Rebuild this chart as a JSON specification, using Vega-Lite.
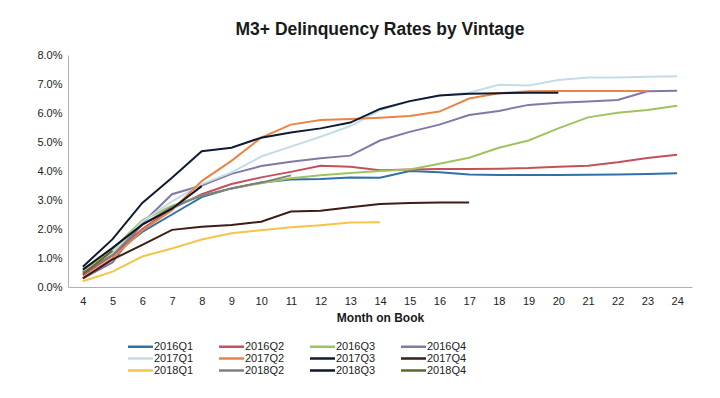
{
  "$schema": "https://vega.github.io/schema/vega-lite/v6.json",
  "width": 624,
  "height": 232,
  "autosize": {"type": "none"},
  "padding": {"left": 68, "top": 55, "right": 28, "bottom": 111},
  "background": "white",
  "title": {"text": "M3+ Delinquency Rates by Vintage", "fontSize": 17.5, "font": "Liberation Sans", "fontWeight": "bold", "anchor": "middle", "offset": 11, "color": "#1a1a1a"},
  "data": {"values": [
    {"v":"2016Q1","m":4,"r":0.5},{"v":"2016Q1","m":5,"r":1.1},{"v":"2016Q1","m":6,"r":1.9},{"v":"2016Q1","m":7,"r":2.5},{"v":"2016Q1","m":8,"r":3.1},{"v":"2016Q1","m":9,"r":3.4},{"v":"2016Q1","m":10,"r":3.6},{"v":"2016Q1","m":11,"r":3.71},{"v":"2016Q1","m":12,"r":3.72},{"v":"2016Q1","m":13,"r":3.78},{"v":"2016Q1","m":14,"r":3.77},{"v":"2016Q1","m":15,"r":4.0},{"v":"2016Q1","m":16,"r":3.96},{"v":"2016Q1","m":17,"r":3.88},{"v":"2016Q1","m":18,"r":3.86},{"v":"2016Q1","m":19,"r":3.86},{"v":"2016Q1","m":20,"r":3.86},{"v":"2016Q1","m":21,"r":3.87},{"v":"2016Q1","m":22,"r":3.88},{"v":"2016Q1","m":23,"r":3.9},{"v":"2016Q1","m":24,"r":3.92},
    {"v":"2016Q2","m":4,"r":0.4},{"v":"2016Q2","m":5,"r":1.1},{"v":"2016Q2","m":6,"r":2.0},{"v":"2016Q2","m":7,"r":2.7},{"v":"2016Q2","m":8,"r":3.2},{"v":"2016Q2","m":9,"r":3.55},{"v":"2016Q2","m":10,"r":3.78},{"v":"2016Q2","m":11,"r":3.97},{"v":"2016Q2","m":12,"r":4.18},{"v":"2016Q2","m":13,"r":4.15},{"v":"2016Q2","m":14,"r":4.03},{"v":"2016Q2","m":15,"r":4.05},{"v":"2016Q2","m":16,"r":4.07},{"v":"2016Q2","m":17,"r":4.07},{"v":"2016Q2","m":18,"r":4.08},{"v":"2016Q2","m":19,"r":4.1},{"v":"2016Q2","m":20,"r":4.15},{"v":"2016Q2","m":21,"r":4.18},{"v":"2016Q2","m":22,"r":4.3},{"v":"2016Q2","m":23,"r":4.45},{"v":"2016Q2","m":24,"r":4.56},
    {"v":"2016Q3","m":4,"r":0.55},{"v":"2016Q3","m":5,"r":1.3},{"v":"2016Q3","m":6,"r":2.3},{"v":"2016Q3","m":7,"r":2.8},{"v":"2016Q3","m":8,"r":3.15},{"v":"2016Q3","m":9,"r":3.4},{"v":"2016Q3","m":10,"r":3.58},{"v":"2016Q3","m":11,"r":3.75},{"v":"2016Q3","m":12,"r":3.85},{"v":"2016Q3","m":13,"r":3.93},{"v":"2016Q3","m":14,"r":4.0},{"v":"2016Q3","m":15,"r":4.05},{"v":"2016Q3","m":16,"r":4.25},{"v":"2016Q3","m":17,"r":4.46},{"v":"2016Q3","m":18,"r":4.8},{"v":"2016Q3","m":19,"r":5.05},{"v":"2016Q3","m":20,"r":5.47},{"v":"2016Q3","m":21,"r":5.85},{"v":"2016Q3","m":22,"r":6.01},{"v":"2016Q3","m":23,"r":6.1},{"v":"2016Q3","m":24,"r":6.25},
    {"v":"2016Q4","m":4,"r":0.3},{"v":"2016Q4","m":5,"r":0.85},{"v":"2016Q4","m":6,"r":2.2},{"v":"2016Q4","m":7,"r":3.2},{"v":"2016Q4","m":8,"r":3.5},{"v":"2016Q4","m":9,"r":3.9},{"v":"2016Q4","m":10,"r":4.17},{"v":"2016Q4","m":11,"r":4.32},{"v":"2016Q4","m":12,"r":4.44},{"v":"2016Q4","m":13,"r":4.53},{"v":"2016Q4","m":14,"r":5.05},{"v":"2016Q4","m":15,"r":5.35},{"v":"2016Q4","m":16,"r":5.6},{"v":"2016Q4","m":17,"r":5.93},{"v":"2016Q4","m":18,"r":6.07},{"v":"2016Q4","m":19,"r":6.28},{"v":"2016Q4","m":20,"r":6.35},{"v":"2016Q4","m":21,"r":6.4},{"v":"2016Q4","m":22,"r":6.45},{"v":"2016Q4","m":23,"r":6.75},{"v":"2016Q4","m":24,"r":6.77},
    {"v":"2017Q1","m":4,"r":0.5},{"v":"2017Q1","m":5,"r":1.2},{"v":"2017Q1","m":6,"r":2.25},{"v":"2017Q1","m":7,"r":2.95},{"v":"2017Q1","m":8,"r":3.55},{"v":"2017Q1","m":9,"r":3.95},{"v":"2017Q1","m":10,"r":4.5},{"v":"2017Q1","m":11,"r":4.84},{"v":"2017Q1","m":12,"r":5.18},{"v":"2017Q1","m":13,"r":5.55},{"v":"2017Q1","m":14,"r":6.1},{"v":"2017Q1","m":15,"r":6.4},{"v":"2017Q1","m":16,"r":6.6},{"v":"2017Q1","m":17,"r":6.7},{"v":"2017Q1","m":18,"r":6.97},{"v":"2017Q1","m":19,"r":6.95},{"v":"2017Q1","m":20,"r":7.14},{"v":"2017Q1","m":21,"r":7.22},{"v":"2017Q1","m":22,"r":7.22},{"v":"2017Q1","m":23,"r":7.25},{"v":"2017Q1","m":24,"r":7.27},
    {"v":"2017Q2","m":4,"r":0.3},{"v":"2017Q2","m":5,"r":1.0},{"v":"2017Q2","m":6,"r":1.95},{"v":"2017Q2","m":7,"r":2.65},{"v":"2017Q2","m":8,"r":3.65},{"v":"2017Q2","m":9,"r":4.35},{"v":"2017Q2","m":10,"r":5.15},{"v":"2017Q2","m":11,"r":5.6},{"v":"2017Q2","m":12,"r":5.76},{"v":"2017Q2","m":13,"r":5.79},{"v":"2017Q2","m":14,"r":5.84},{"v":"2017Q2","m":15,"r":5.9},{"v":"2017Q2","m":16,"r":6.05},{"v":"2017Q2","m":17,"r":6.5},{"v":"2017Q2","m":18,"r":6.68},{"v":"2017Q2","m":19,"r":6.75},{"v":"2017Q2","m":20,"r":6.76},{"v":"2017Q2","m":21,"r":6.76},{"v":"2017Q2","m":22,"r":6.76},{"v":"2017Q2","m":23,"r":6.76},
    {"v":"2017Q3","m":4,"r":0.7},{"v":"2017Q3","m":5,"r":1.65},{"v":"2017Q3","m":6,"r":2.9},{"v":"2017Q3","m":7,"r":3.77},{"v":"2017Q3","m":8,"r":4.68},{"v":"2017Q3","m":9,"r":4.8},{"v":"2017Q3","m":10,"r":5.15},{"v":"2017Q3","m":11,"r":5.33},{"v":"2017Q3","m":12,"r":5.47},{"v":"2017Q3","m":13,"r":5.67},{"v":"2017Q3","m":14,"r":6.14},{"v":"2017Q3","m":15,"r":6.41},{"v":"2017Q3","m":16,"r":6.6},{"v":"2017Q3","m":17,"r":6.66},{"v":"2017Q3","m":18,"r":6.68},{"v":"2017Q3","m":19,"r":6.7},{"v":"2017Q3","m":20,"r":6.7},
    {"v":"2017Q4","m":4,"r":0.3},{"v":"2017Q4","m":5,"r":0.95},{"v":"2017Q4","m":6,"r":1.45},{"v":"2017Q4","m":7,"r":1.97},{"v":"2017Q4","m":8,"r":2.08},{"v":"2017Q4","m":9,"r":2.14},{"v":"2017Q4","m":10,"r":2.25},{"v":"2017Q4","m":11,"r":2.6},{"v":"2017Q4","m":12,"r":2.63},{"v":"2017Q4","m":13,"r":2.75},{"v":"2017Q4","m":14,"r":2.86},{"v":"2017Q4","m":15,"r":2.9},{"v":"2017Q4","m":16,"r":2.91},{"v":"2017Q4","m":17,"r":2.91},
    {"v":"2018Q1","m":4,"r":0.2},{"v":"2018Q1","m":5,"r":0.53},{"v":"2018Q1","m":6,"r":1.05},{"v":"2018Q1","m":7,"r":1.33},{"v":"2018Q1","m":8,"r":1.64},{"v":"2018Q1","m":9,"r":1.85},{"v":"2018Q1","m":10,"r":1.96},{"v":"2018Q1","m":11,"r":2.06},{"v":"2018Q1","m":12,"r":2.13},{"v":"2018Q1","m":13,"r":2.22},{"v":"2018Q1","m":14,"r":2.23},
    {"v":"2018Q2","m":4,"r":0.5},{"v":"2018Q2","m":5,"r":1.1},{"v":"2018Q2","m":6,"r":2.15},{"v":"2018Q2","m":7,"r":2.75},{"v":"2018Q2","m":8,"r":3.15},{"v":"2018Q2","m":9,"r":3.4},{"v":"2018Q2","m":10,"r":3.6},{"v":"2018Q2","m":11,"r":3.85},
    {"v":"2018Q3","m":4,"r":0.6},{"v":"2018Q3","m":5,"r":1.35},{"v":"2018Q3","m":6,"r":2.15},{"v":"2018Q3","m":7,"r":2.7},{"v":"2018Q3","m":8,"r":3.48},
    {"v":"2018Q4","m":4,"r":0.45},{"v":"2018Q4","m":5,"r":1.25}
  ]},
  "mark": {"type": "line", "strokeWidth": 2},
  "encoding": {
    "x": {"field": "m", "type": "quantitative", "scale": {"domain": [3.5, 24.5], "nice": false, "zero": false},
      "axis": {"values": [4,5,6,7,8,9,10,11,12,13,14,15,16,17,18,19,20,21,22,23,24], "ticks": false, "grid": false, "domainColor": "#b0b0b0", "labelPadding": 8, "labelFontSize": 11, "labelColor": "#222", "labelFont": "Liberation Sans", "title": "Month on Book", "titleFont": "Liberation Sans", "titleFontSize": 12, "titleFontWeight": "bold", "titleColor": "#1a1a1a", "titlePadding": 6, "labelFlush": false}},
    "y": {"field": "r", "type": "quantitative", "scale": {"domain": [0, 8], "nice": false},
      "axis": {"values": [0,1,2,3,4,5,6,7,8], "ticks": false, "grid": false, "domainColor": "#b0b0b0", "labelPadding": 6, "labelFontSize": 11, "labelColor": "#222", "labelFont": "Liberation Sans", "title": null, "labelExpr": "format(datum.value, '.1f') + '%'", "labelFlush": false}},
    "color": {"field": "v", "type": "nominal",
      "scale": {"domain": ["2016Q1","2016Q2","2016Q3","2016Q4","2017Q1","2017Q2","2017Q3","2017Q4","2018Q1","2018Q2","2018Q3","2018Q4"],
        "range": ["#2f72aa","#c4505a","#9fc35f","#8378a3","#c3dde6","#e88546","#101b33","#3d1d14","#f5c44a","#7f7f7f","#0d1628","#66662f"]},
      "legend": {"orient": "none", "direction": "horizontal", "legendX": 66, "legendY": 285, "columns": 4, "title": null, "symbolType": "M-2.5,0H2.5", "symbolSize": 100, "symbolStrokeWidth": 2.5, "labelOffset": 7, "labelFontSize": 11, "labelFont": "Liberation Sans", "labelColor": "#222", "columnPadding": 20, "rowPadding": 0, "padding": 0}}
  },
  "config": {"view": {"stroke": null}, "font": "Liberation Sans"}
}
